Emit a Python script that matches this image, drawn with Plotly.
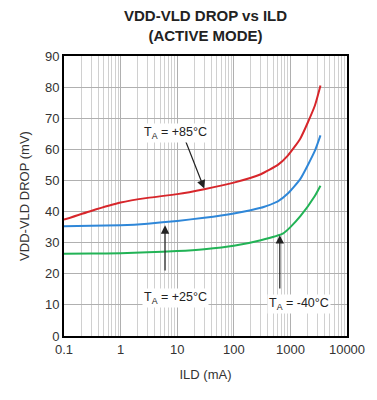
import math
import plotly.graph_objects as go

ild_85 = [0.1, 0.3, 1, 3, 10, 30, 100, 300, 600, 900, 1500, 2700, 3400]
drop_85 = [37.4, 40.2, 42.9, 44.4, 45.6, 47.2, 49.3, 52.0, 55.0, 58.0, 63.5, 74.0, 80.5]

ild_25 = [0.1, 0.3, 1, 3, 10, 30, 100, 300, 600, 900, 1500, 2700, 3400]
drop_25 = [35.3, 35.4, 35.6, 36.1, 37.0, 38.0, 39.4, 41.2, 43.3, 45.8, 50.5, 59.5, 64.5]

ild_m40 = [0.1, 0.3, 1, 3, 10, 30, 100, 300, 750, 1000, 1500, 2700, 3400]
drop_m40 = [26.4, 26.5, 26.6, 26.9, 27.3, 27.9, 29.0, 30.8, 33.0, 35.0, 38.5, 45.0, 48.3]

x_ticks = [0.1, 1, 10, 100, 1000, 10000]
x_tick_labels = ["0.1", "1", "10", "100", "1000", "10000"]
y_ticks = list(range(0, 91, 10))

# arrow tips (on curves) and tails, in data units
arrow_tip_x = [30, 6.1, 650]
arrow_tip_y = [47.4, 35.6, 32.4]
arrow_tail_x = [13.5, 6.1, 650]
arrow_tail_y = [63.5, 20.6, 14.8]

label_x = [9.5, 9.5, 1400]
label_y = [65.3, 12.2, 10.3]
label_text = ["T<sub>A</sub> = +85°C", "T<sub>A</sub> = +25°C", "T<sub>A</sub> = -40°C"]

FONT = "Liberation Sans Narrow, Arial Narrow, Liberation Sans, Arial, sans-serif"

fig = go.Figure()
for xs, ys, col in [(ild_85, drop_85, "#d7262b"),
                    (ild_25, drop_25, "#2f87d8"),
                    (ild_m40, drop_m40, "#22b356")]:
    fig.add_trace(go.Scatter(x=xs, y=ys, mode="lines",
                             line=dict(color=col, width=2, shape="spline", smoothing=0.5),
                             showlegend=False, hoverinfo="skip"))

for x, y, ax, ay in zip(arrow_tip_x, arrow_tip_y, arrow_tail_x, arrow_tail_y):
    fig.add_annotation(x=math.log10(x), y=y, ax=math.log10(ax), ay=ay,
                       xref="x", yref="y", axref="x", ayref="y",
                       text="", showarrow=True, arrowhead=2, arrowsize=1.4, arrowwidth=1.2,
                       arrowcolor="#222222")

for x, y, t in zip(label_x, label_y, label_text):
    fig.add_annotation(x=math.log10(x), y=y, xref="x", yref="y", text=t, showarrow=False,
                       bgcolor="white",
                       font=dict(family="Liberation Sans, Arial, sans-serif", size=12.5, color="#222222"),
                       borderpad=1)

fig.add_annotation(x=0.5, y=1.11, xref="paper", yref="paper", xanchor="center", yanchor="middle",
                   text="<b>VDD-VLD DROP vs ILD<br>(ACTIVE MODE)</b>", showarrow=False,
                   font=dict(family=FONT, size=15, color="#222222"))

fig.update_layout(
    width=369, height=392,
    margin=dict(l=56, r=30, t=48, b=64),
    paper_bgcolor="white", plot_bgcolor="white",
    xaxis=dict(type="log", range=[-1, 4], tickvals=x_ticks, ticktext=x_tick_labels,
               showgrid=True, gridcolor="#b0b0b0", gridwidth=1,
               minor=dict(showgrid=True, gridcolor="#d0d0d0", gridwidth=1, dtick="D1"),
               showline=True, linecolor="black", linewidth=2, mirror=True,
               ticks="", tickfont=dict(family=FONT, size=13, color="#333333"),
               title=dict(text="ILD (mA)", font=dict(family=FONT, size=13, color="#333333"),
                          standoff=14)),
    yaxis=dict(range=[0, 90], tickvals=y_ticks,
               showgrid=True, gridcolor="#b0b0b0", gridwidth=1,
               showline=True, linecolor="black", linewidth=2, mirror=True,
               ticks="", zeroline=False,
               tickfont=dict(family=FONT, size=13, color="#333333"),
               title=dict(text="VDD-VLD DROP (mV)", font=dict(family=FONT, size=13, color="#333333"),
                          standoff=12)),
)

fig.write_html("out.html")
